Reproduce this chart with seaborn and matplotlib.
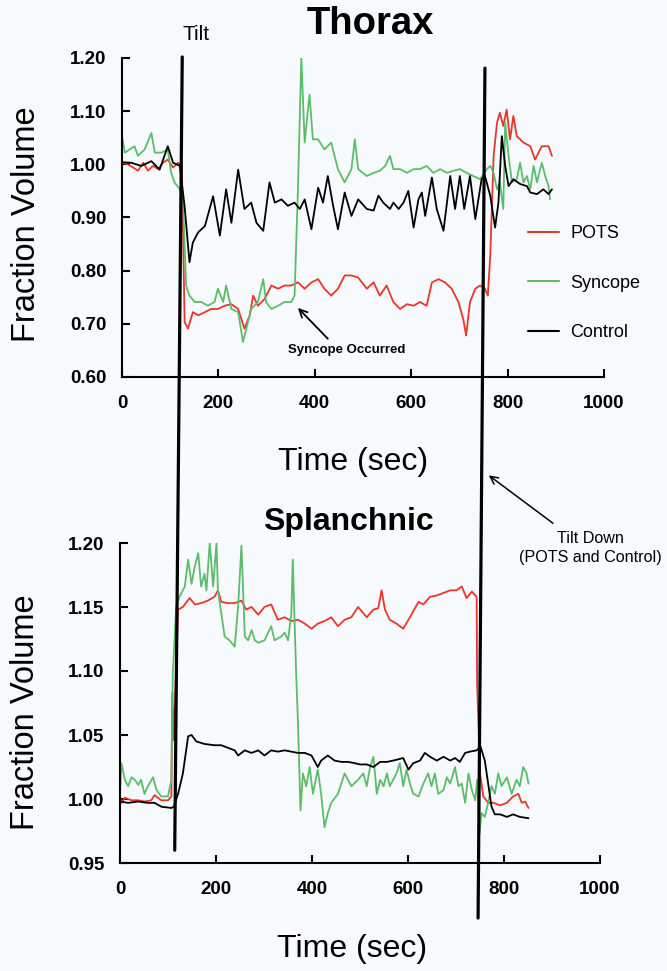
import matplotlib
matplotlib.use("Agg")
import matplotlib.pyplot as plt
from matplotlib.patches import ConnectionPatch
import seaborn as sns
import pandas as pd

# ---------------- data ----------------
series_names = ["POTS", "Syncope", "Control"]
series_colors = {"POTS": "#e8352e", "Syncope": "#5dbb6c", "Control": "#000000"}

# Thorax panel
thorax_pots_t = [0, 12, 23, 33, 44, 54, 64, 75, 85, 95, 106, 116, 124, 130, 137, 147, 158, 172, 185, 199,
                 213, 227, 241, 254, 265, 272, 282, 296, 310, 324, 337, 351, 365, 379, 393, 407, 420, 434,
                 448, 462, 476, 490, 508, 522, 535, 549, 563, 577, 591, 605, 618, 632, 643, 657, 670, 684,
                 698, 708, 714, 722, 733, 743, 753, 759, 764, 771, 778, 784, 791, 798, 805, 812, 819, 833,
                 847, 857, 871, 885, 892]
thorax_pots_v = [1.003, 1.000, 0.994, 0.988, 1.003, 0.988, 0.997, 0.991, 1.003, 1.009, 0.994, 1.003, 0.997,
                 0.703, 0.691, 0.722, 0.716, 0.722, 0.728, 0.728, 0.734, 0.737, 0.728, 0.691, 0.716, 0.753,
                 0.734, 0.747, 0.772, 0.766, 0.772, 0.772, 0.778, 0.766, 0.778, 0.784, 0.766, 0.753, 0.766,
                 0.791, 0.791, 0.787, 0.766, 0.778, 0.753, 0.772, 0.741, 0.728, 0.737, 0.734, 0.741, 0.734,
                 0.778, 0.784, 0.778, 0.766, 0.741, 0.709, 0.678, 0.741, 0.766, 0.772, 0.766, 0.753, 0.828,
                 1.016, 1.078, 1.097, 1.072, 1.103, 1.047, 1.091, 1.053, 1.041, 1.034, 1.009, 1.034, 1.034,
                 1.016]

thorax_sync_t = [0, 6, 16, 26, 33, 47, 61, 68, 82, 95, 102, 109, 120, 127, 133, 140, 151, 165, 178, 192,
                 199, 210, 216, 227, 241, 251, 258, 268, 282, 293, 299, 310, 324, 337, 351, 358, 365, 372,
                 379, 389, 396, 407, 420, 434, 448, 462, 476, 483, 490, 508, 522, 535, 546, 556, 563, 577,
                 591, 605, 618, 632, 646, 660, 674, 688, 701, 715, 729, 743, 757, 764, 771, 778, 784, 791,
                 795, 802, 809, 819, 826, 833, 840, 847, 854, 861, 871, 878, 885, 888]
thorax_sync_v = [1.053, 1.022, 1.028, 1.034, 1.016, 1.028, 1.059, 1.022, 1.022, 1.028, 0.984, 0.966, 0.953,
                 0.922, 0.772, 0.753, 0.741, 0.741, 0.734, 0.741, 0.766, 0.741, 0.772, 0.728, 0.722, 0.666,
                 0.691, 0.728, 0.741, 0.784, 0.741, 0.728, 0.734, 0.741, 0.741, 0.753, 0.953, 1.200, 1.041,
                 1.131, 1.047, 1.047, 1.028, 1.041, 0.991, 0.966, 0.991, 1.047, 0.991, 0.978, 0.984, 0.988,
                 0.997, 1.016, 0.991, 0.991, 0.984, 0.991, 0.991, 0.997, 0.984, 0.991, 0.984, 0.988, 0.991,
                 0.984, 0.978, 0.972, 0.991, 0.997, 0.984, 0.953, 0.966, 0.916, 1.078, 1.016, 0.966, 0.972,
                 1.003, 0.966, 0.978, 0.953, 0.997, 0.966, 1.003, 0.978, 0.959, 0.934]

thorax_ctrl_t = [0, 19, 40, 61, 78, 95, 106, 120, 130, 140, 147, 158, 172, 189, 203, 216, 227, 241, 254,
                 268, 279, 293, 306, 317, 331, 344, 358, 369, 379, 393, 407, 417, 427, 438, 448, 462, 476,
                 490, 508, 522, 532, 542, 556, 563, 574, 584, 594, 605, 615, 622, 629, 643, 653, 667, 681,
                 691, 701, 710, 722, 733, 746, 753, 764, 774, 781, 788, 795, 802, 812, 826, 840, 847, 861,
                 874, 885, 892]
thorax_ctrl_v = [1.004, 1.003, 0.997, 1.006, 0.990, 1.034, 1.003, 0.997, 0.920, 0.816, 0.853, 0.872, 0.884,
                 0.940, 0.866, 0.953, 0.890, 0.990, 0.916, 0.928, 0.890, 0.875, 0.966, 0.928, 0.934, 0.922,
                 0.928, 0.916, 0.934, 0.878, 0.956, 0.928, 0.978, 0.922, 0.878, 0.947, 0.903, 0.934, 0.916,
                 0.913, 0.941, 0.928, 0.916, 0.928, 0.916, 0.928, 0.950, 0.881, 0.934, 0.947, 0.903, 0.975,
                 0.916, 0.875, 0.978, 0.916, 0.978, 0.916, 0.978, 0.897, 0.972, 0.978, 0.941, 0.881, 0.928,
                 1.053, 0.997, 0.959, 0.972, 0.963, 0.959, 0.947, 0.944, 0.953, 0.944, 0.953]

# Splanchnic panel
splan_pots_t = [0, 3, 10, 24, 38, 51, 65, 72, 86, 100, 107, 109, 112, 121, 131, 145, 156, 169, 183, 197,
                204, 211, 225, 239, 253, 263, 274, 288, 301, 315, 329, 343, 357, 371, 385, 399, 412, 426,
                440, 454, 468, 482, 496, 514, 528, 538, 545, 552, 562, 576, 590, 604, 622, 632, 646, 660,
                674, 688, 701, 712, 722, 733, 743, 744, 750, 757, 767, 778, 792, 806, 819, 830, 837, 844,
                851]
splan_pots_v = [1.002, 0.997, 1.001, 0.999, 0.999, 0.998, 0.999, 1.003, 0.999, 0.999, 1.002, 1.083, 1.046,
                1.148, 1.150, 1.157, 1.152, 1.153, 1.155, 1.158, 1.163, 1.154, 1.153, 1.153, 1.155, 1.148,
                1.150, 1.144, 1.150, 1.152, 1.140, 1.142, 1.139, 1.140, 1.137, 1.133, 1.137, 1.139, 1.142,
                1.135, 1.140, 1.142, 1.150, 1.142, 1.148, 1.149, 1.163, 1.148, 1.140, 1.137, 1.133, 1.142,
                1.154, 1.152, 1.158, 1.159, 1.161, 1.163, 1.163, 1.166, 1.157, 1.162, 1.158, 1.090, 1.020,
                1.002, 0.997, 0.997, 0.995, 0.997, 1.002, 1.004, 0.997, 0.998, 0.993]

splan_sync_t = [0, 3, 10, 17, 24, 31, 38, 44, 51, 58, 69, 76, 86, 100, 107, 110, 117, 124, 135, 142, 149,
                156, 163, 169, 176, 180, 187, 194, 201, 204, 211, 218, 228, 239, 246, 253, 260, 267, 274,
                281, 288, 301, 315, 322, 336, 343, 350, 357, 360, 364, 367, 371, 376, 381, 388, 395, 402,
                412, 419, 426, 433, 440, 454, 468, 482, 496, 507, 514, 521, 528, 535, 542, 549, 556, 562,
                569, 576, 583, 590, 597, 604, 611, 622, 632, 642, 649, 656, 663, 674, 681, 688, 698, 705,
                712, 719, 726, 733, 740, 744, 749, 753, 760, 767, 774, 781, 788, 795, 806, 816, 826, 833,
                840, 847, 851]
splan_sync_v = [1.004, 1.028, 1.015, 1.010, 1.017, 1.015, 1.011, 1.015, 1.004, 1.010, 1.017, 1.007, 1.002,
                1.002, 1.015, 1.098, 1.150, 1.158, 1.166, 1.187, 1.168, 1.182, 1.192, 1.166, 1.176, 1.163,
                1.200, 1.166, 1.200, 1.163, 1.145, 1.127, 1.124, 1.119, 1.150, 1.198, 1.127, 1.124, 1.132,
                1.124, 1.122, 1.124, 1.135, 1.124, 1.127, 1.130, 1.124, 1.145, 1.187, 1.135, 1.098, 1.057,
                0.991, 1.020, 1.010, 1.025, 1.004, 1.023, 1.004, 0.978, 0.989, 0.997, 1.004, 1.020, 1.010,
                1.015, 1.020, 1.010, 1.025, 1.033, 1.004, 1.015, 1.010, 1.020, 1.010, 1.015, 1.020, 1.028,
                1.010, 1.023, 1.012, 1.004, 1.002, 1.012, 1.020, 1.010, 1.020, 1.004, 1.007, 1.017, 1.012,
                1.025, 1.010, 1.012, 0.997, 1.020, 1.007, 0.999, 1.015, 0.973, 0.989, 0.986, 0.997, 1.010,
                1.004, 1.020, 1.010, 1.017, 1.004, 1.015, 1.010, 1.025, 1.020, 1.012]

splan_ctrl_t = [0, 17, 38, 58, 72, 86, 107, 112, 121, 131, 142, 149, 159, 176, 197, 211, 225, 239, 246,
                260, 274, 288, 301, 315, 329, 343, 357, 371, 385, 399, 412, 419, 433, 447, 461, 475, 489,
                500, 514, 528, 542, 556, 569, 590, 601, 611, 625, 635, 646, 660, 674, 688, 698, 708, 719,
                729, 743, 751, 760, 767, 774, 781, 792, 806, 819, 833, 851]
splan_ctrl_v = [0.998, 0.997, 0.998, 0.997, 0.997, 0.994, 0.993, 0.994, 1.004, 1.020, 1.049, 1.050, 1.045,
                1.043, 1.042, 1.042, 1.040, 1.038, 1.034, 1.038, 1.036, 1.038, 1.034, 1.038, 1.037, 1.038,
                1.037, 1.036, 1.036, 1.034, 1.025, 1.030, 1.034, 1.030, 1.029, 1.029, 1.028, 1.027, 1.027,
                1.025, 1.029, 1.029, 1.030, 1.032, 1.023, 1.028, 1.030, 1.036, 1.033, 1.030, 1.033, 1.030,
                1.032, 1.029, 1.036, 1.037, 1.038, 1.041, 1.030, 1.012, 0.994, 0.988, 0.988, 0.986, 0.988,
                0.986, 0.985]

# Tilt markers (time, value) at top and bottom ends of the drawn lines
tilt_up_top = (125, 1.202)
tilt_up_bottom = (114, 0.960)
tilt_down_top = (753, 1.181)
tilt_down_bottom = (746, 0.907)

x_ticks = [0, 200, 400, 600, 800, 1000]
thorax_yticks = [0.60, 0.70, 0.80, 0.90, 1.00, 1.10, 1.20]
splan_yticks = [0.95, 1.00, 1.05, 1.10, 1.15, 1.20]


def make_df(parts):
    frames = []
    for name, t, v in parts:
        frames.append(pd.DataFrame({"Time": t, "Value": v, "Group": name}))
    return pd.concat(frames, ignore_index=True)


thorax_df = make_df([("POTS", thorax_pots_t, thorax_pots_v),
                     ("Syncope", thorax_sync_t, thorax_sync_v),
                     ("Control", thorax_ctrl_t, thorax_ctrl_v)])
splan_df = make_df([("POTS", splan_pots_t, splan_pots_v),
                    ("Syncope", splan_sync_t, splan_sync_v),
                    ("Control", splan_ctrl_t, splan_ctrl_v)])

# ---------------- style ----------------
sns.set_style("ticks")
plt.rcParams["font.family"] = ["Liberation Sans", "DejaVu Sans"]
for k in ["text.color", "axes.labelcolor", "xtick.color", "ytick.color", "axes.edgecolor"]:
    plt.rcParams[k] = "black"
bg = "#f7fafc"

fig = plt.figure(figsize=(6.67, 9.71), dpi=100, facecolor=bg)
ax1 = fig.add_axes([122 / 667, 1 - 377 / 971, 482 / 667, 319 / 971])
ax2 = fig.add_axes([120 / 667, 1 - 863 / 971, 480 / 667, 320 / 971])


def draw_panel(ax, df, yticks, ylim, legend):
    ax.set_facecolor(bg)
    sns.lineplot(data=df, x="Time", y="Value", hue="Group", hue_order=series_names,
                 palette=series_colors, estimator=None, sort=False, linewidth=1.3,
                 ax=ax, legend=legend)
    ax.set_xlim(0, 1000)
    ax.set_ylim(*ylim)
    ax.set_xticks(x_ticks)
    ax.set_xticklabels([str(x) for x in x_ticks])
    ax.set_yticks(yticks)
    ax.set_yticklabels([f"{y:.2f}" for y in yticks])
    for s in ["top", "right"]:
        ax.spines[s].set_visible(False)
    for s in ["left", "bottom"]:
        ax.spines[s].set_linewidth(1.5)
        ax.spines[s].set_color("black")
    ax.tick_params(direction="in", length=6, width=1.5, color="black",
                   labelsize=13.5, labelcolor="black")
    ax.tick_params(axis="x", pad=13)
    ax.tick_params(axis="y", pad=11)
    for lab in ax.get_xticklabels() + ax.get_yticklabels():
        lab.set_fontweight("bold")
    ax.set_ylabel("Fraction Volume", fontsize=23.5)
    ax.set_xlabel("Time (sec)", fontsize=23)
    ax.xaxis.label.set_va("center")
    ax.yaxis.label.set_va("center")


draw_panel(ax1, thorax_df, thorax_yticks, (0.60, 1.20), True)
draw_panel(ax2, splan_df, splan_yticks, (0.95, 1.20), False)

ax1.yaxis.set_label_coords(-0.199, 0.48)
ax1.xaxis.set_label_coords(0.479, -0.266)
ax2.yaxis.set_label_coords(-0.197, 0.472)
ax2.xaxis.set_label_coords(0.483, -0.269)

# legend
leg = ax1.legend(loc="upper left", bbox_to_anchor=(0.842, 0.476), frameon=False,
                 fontsize=13, handlelength=1.75, handletextpad=0.6, labelspacing=1.8,
                 borderpad=0, borderaxespad=0)
for line in leg.get_lines():
    line.set_linewidth(1.5)

# titles
ax1.text(0.515, 1.107, "Thorax", transform=ax1.transAxes, ha="center", va="center",
         fontsize=27.5, fontweight="bold")
ax2.text(0.475, 1.066, "Splanchnic", transform=ax2.transAxes, ha="center", va="center",
         fontsize=23, fontweight="bold")
ax1.text(0.154, 1.075, "Tilt", transform=ax1.transAxes, ha="center", va="center", fontsize=15)

# syncope annotation
ax1.annotate("", xy=(365, 0.730), xytext=(427, 0.672),
             arrowprops=dict(arrowstyle="->", color="black", lw=1.3, shrinkA=0, shrinkB=0,
                             mutation_scale=14))
ax1.text(467, 0.650, "Syncope Occurred", ha="center", va="center", fontsize=9.5,
         fontweight="bold")

# tilt down annotation
ax1.annotate("", xy=(761, 0.415), xytext=(894, 0.325), annotation_clip=False,
             arrowprops=dict(arrowstyle="->", color="black", lw=1.1, shrinkA=0, shrinkB=0,
                             mutation_scale=14))
fig.text(590 / 667, 1 - 548 / 971, "Tilt Down\n(POTS and Control)", ha="center", va="center",
         fontsize=11.6, linespacing=1.35)

# tilt lines spanning both panels
for top, bot in [(tilt_up_top, tilt_up_bottom), (tilt_down_top, tilt_down_bottom)]:
    con = ConnectionPatch(xyA=top, coordsA=ax1.transData, xyB=bot, coordsB=ax2.transData,
                          color="black", lw=2.3, zorder=10)
    fig.add_artist(con)

fig.savefig("out.png", dpi=100, facecolor=bg)
